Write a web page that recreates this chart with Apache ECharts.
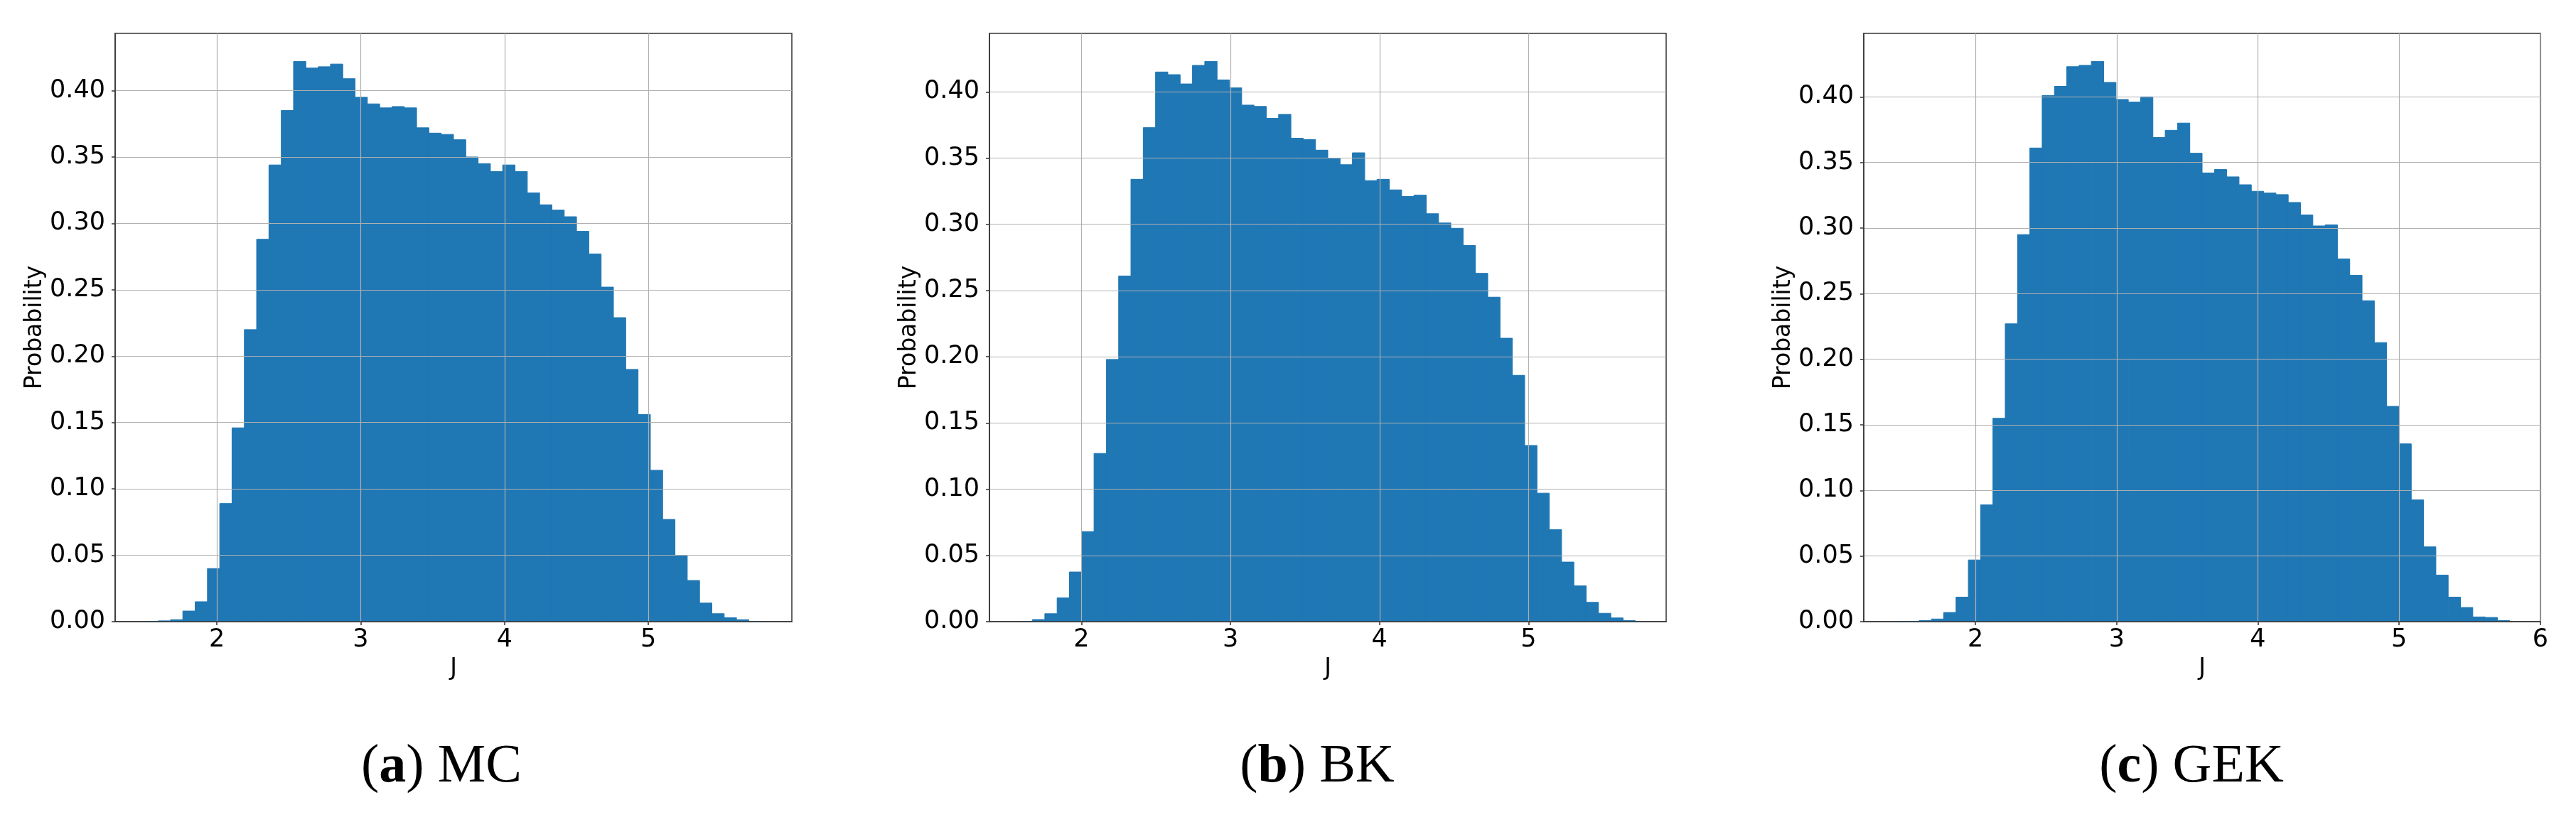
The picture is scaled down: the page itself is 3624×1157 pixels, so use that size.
<!DOCTYPE html>
<html>
<head>
<meta charset="utf-8">
<script src="https://cdn.jsdelivr.net/npm/echarts@6/dist/echarts.min.js"></script>
<style>
  html, body { margin: 0; padding: 0; background: #fff; }
  #chart { width: 3624px; height: 1157px; }
</style>
</head>
<body>
<div id="chart"></div>
<script>
// histogram bin values (50 bins each)
const mcValues = [
  0.0002, 0.0006, 0.0015, 0.008, 0.015, 0.040, 0.089, 0.146, 0.220, 0.288,
  0.344, 0.385, 0.422, 0.417, 0.418, 0.420, 0.409, 0.395, 0.390, 0.387,
  0.388, 0.387, 0.372, 0.368, 0.367, 0.363, 0.350, 0.345, 0.339, 0.344,
  0.339, 0.323, 0.314, 0.310, 0.305, 0.294, 0.277, 0.252, 0.229, 0.190,
  0.156, 0.114, 0.077, 0.050, 0.031, 0.014, 0.006, 0.003, 0.0015, 0.0003
]
const bkValues = [
  0.0002, 0.0016, 0.006, 0.018, 0.0375, 0.068, 0.127, 0.198, 0.261, 0.334,
  0.373, 0.415, 0.413, 0.406, 0.420, 0.423, 0.409, 0.403, 0.390, 0.389,
  0.380, 0.383, 0.365, 0.364, 0.356, 0.350, 0.345, 0.354, 0.333, 0.334,
  0.326, 0.321, 0.322, 0.308, 0.301, 0.297, 0.284, 0.263, 0.245, 0.214,
  0.186, 0.133, 0.097, 0.0695, 0.045, 0.027, 0.0146, 0.0063, 0.0028, 0.0008
]
const gekValues = [
  0.0001, 0.0003, 0.0008, 0.002, 0.007, 0.0187, 0.047, 0.089, 0.155, 0.227,
  0.295, 0.361, 0.401, 0.408, 0.423, 0.424, 0.427, 0.411, 0.398, 0.396,
  0.400, 0.369, 0.3745, 0.380, 0.357, 0.342, 0.3446, 0.339, 0.333, 0.328,
  0.3267, 0.3255, 0.3195, 0.310, 0.3016, 0.3024, 0.2765, 0.264, 0.2446, 0.2127,
  0.1641, 0.1355, 0.0928, 0.057, 0.0355, 0.0187, 0.0108, 0.0036, 0.0032, 0.0008
]

// histogram ranges [first edge, last edge]
const mcRange = [1.507, 5.783]
const bkRange = [1.589, 5.717]
const gekRange = [1.4275, 5.7825]

// tick labels
const xTicksShort = [2, 3, 4, 5]
const xTicksLong = [2, 3, 4, 5, 6]
const yTicks = [0, 0.05, 0.10, 0.15, 0.20, 0.25, 0.30, 0.35, 0.40]

const panelLetters = ['a', 'b', 'c']
const panelNames = ['MC', 'BK', 'GEK']
const xAxisName = 'J'
const yAxisName = 'Probability'

const barColor = '#1f77b4'
const tickFont = 'DejaVu Sans'

const panels = [
  { values: mcValues, range: mcRange, xTicks: xTicksShort, left: 162, capX: 621 },
  { values: bkValues, range: bkRange, xTicks: xTicksShort, left: 1392, capX: 1853 },
  { values: gekValues, range: gekRange, xTicks: xTicksLong, left: 2622, capX: 3083 }
]

const plotTop = 47
const plotWidth = 952
const plotHeight = 828

// turn bin values into [x0, x1, y] rows
const toBins = (values, range) => {
  const w = (range[1] - range[0]) / values.length
  return values.map((v, i) => [range[0] + i * w, range[0] + (i + 1) * w, v])
}

const renderBin = (params, api) => {
  const top = api.coord([api.value(0), api.value(2)])
  const bottom = api.coord([api.value(1), 0])
  return {
    type: 'rect',
    shape: { x: top[0], y: top[1], width: bottom[0] - top[0], height: bottom[1] - top[1] },
    style: { fill: barColor, stroke: barColor, lineWidth: 1 }
  }
}

const chart = echarts.init(document.getElementById('chart'), null, { renderer: 'canvas' })

const grid = []
const xAxis = []
const yAxis = []
const series = []
const graphic = []

panels.forEach((p, i) => {
  const span = p.range[1] - p.range[0]
  grid.push({
    left: p.left, top: plotTop, width: plotWidth, height: plotHeight,
    show: true, borderColor: '#333', borderWidth: 1.5, backgroundColor: 'transparent'
  })
  xAxis.push({
    type: 'value',
    gridIndex: i,
    z: 3,
    min: p.range[0] - 0.05 * span,
    max: p.range[1] + 0.05 * span,
    minInterval: 1,
    maxInterval: 1,
    name: xAxisName,
    nameLocation: 'middle',
    nameGap: 50,
    nameTextStyle: { fontFamily: tickFont, fontSize: 33, color: '#000' },
    axisLine: { show: true, onZero: false, lineStyle: { color: '#333', width: 1.5 } },
    axisTick: { show: true, length: 5, customValues: p.xTicks, lineStyle: { color: '#333', width: 1.5 } },
    axisLabel: {
      customValues: p.xTicks,
      margin: 8,
      fontFamily: tickFont, fontSize: 35, color: '#000',
      formatter: v => String(v)
    },
    splitLine: { show: true, lineStyle: { color: '#b0b0b0', width: 1.2 } }
  })
  yAxis.push({
    type: 'value',
    gridIndex: i,
    z: 3,
    min: 0,
    max: Math.max(...p.values) * 1.05,
    interval: 0.05,
    name: yAxisName,
    nameLocation: 'middle',
    nameRotate: 90,
    nameGap: 92,
    nameTextStyle: { fontFamily: tickFont, fontSize: 33, color: '#000' },
    axisLine: { show: true, lineStyle: { color: '#333', width: 1.5 } },
    axisTick: { show: true, length: 5, customValues: yTicks, lineStyle: { color: '#333', width: 1.5 } },
    axisLabel: {
      customValues: yTicks,
      margin: 14,
      fontFamily: tickFont, fontSize: 35, color: '#000',
      formatter: v => v.toFixed(2)
    },
    splitLine: { show: true, lineStyle: { color: '#b0b0b0', width: 1.2 } }
  })
  series.push({
    type: 'custom',
    xAxisIndex: i,
    yAxisIndex: i,
    renderItem: renderBin,
    encode: { x: [0, 1], y: 2 },
    data: toBins(p.values, p.range),
    silent: true
  })
  graphic.push({
    type: 'text',
    x: p.capX,
    y: 1080,
    style: {
      text: '{p|(}{b|' + panelLetters[i] + '}{p|) ' + panelNames[i] + '}',
      align: 'center',
      verticalAlign: 'middle',
      rich: {
        p: { fontFamily: 'Liberation Serif', fontSize: 76, fill: '#000' },
        b: { fontFamily: 'Liberation Serif', fontSize: 76, fontWeight: 'bold', fill: '#000' }
      }
    }
  })
})

chart.setOption({
  animation: false,
  backgroundColor: '#fff',
  grid,
  xAxis,
  yAxis,
  series,
  graphic
})
</script>
</body>
</html>
